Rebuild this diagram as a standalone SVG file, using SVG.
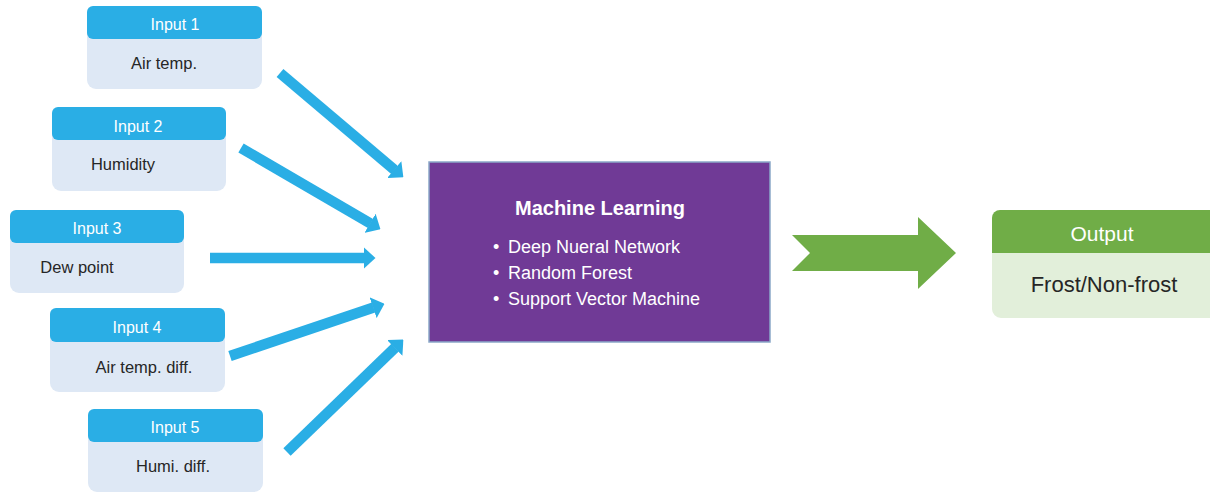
<svg xmlns="http://www.w3.org/2000/svg" width="1210" height="493" viewBox="0 0 1210 493">
  <style>
    .body{fill:#DEE8F5}
    .head{fill:#2AAEE5}
    .ht{font-family:"Liberation Sans",Arial,sans-serif;font-size:16px;fill:#FFFFFF;text-anchor:middle}
    .bt{font-family:"Liberation Sans",Arial,sans-serif;font-size:16.5px;fill:#262626;text-anchor:middle}
    .conn{stroke:#2AAEE5;stroke-width:10.5;fill:none;marker-end:url(#ah)}
    .ml{font-family:"Liberation Sans",Arial,sans-serif;fill:#FFFFFF}
  </style>
  <defs>
    <marker id="ah" markerUnits="userSpaceOnUse" viewBox="0 0 12 22" markerWidth="12" markerHeight="22" refX="0.5" refY="11" orient="auto">
      <path d="M0,0 L12,11 L0,22 z" fill="#2AAEE5"/>
    </marker>
  </defs>
  <rect width="1210" height="493" fill="#FFFFFF"/>

  <g id="input1">
    <rect class="body" x="87" y="6" width="175" height="83" rx="9"/>
    <rect class="head" x="87" y="6" width="175" height="33" rx="6"/>
    <text class="ht" x="175" y="30">Input 1</text>
    <text class="bt" x="164" y="69">Air temp.</text>
  </g>
  <g id="input2">
    <rect class="body" x="52" y="107" width="174" height="84" rx="9"/>
    <rect class="head" x="52" y="107" width="174" height="33" rx="6"/>
    <text class="ht" x="138" y="132">Input 2</text>
    <text class="bt" x="123" y="170">Humidity</text>
  </g>
  <g id="input3">
    <rect class="body" x="10" y="210" width="174" height="83" rx="9"/>
    <rect class="head" x="10" y="210" width="174" height="33" rx="6"/>
    <text class="ht" x="97" y="234">Input 3</text>
    <text class="bt" x="77" y="273">Dew point</text>
  </g>
  <g id="input4">
    <rect class="body" x="50" y="308" width="175" height="84" rx="9"/>
    <rect class="head" x="50" y="308" width="175" height="34" rx="6"/>
    <text class="ht" x="137" y="333">Input 4</text>
    <text class="bt" x="144" y="373">Air temp. diff.</text>
  </g>
  <g id="input5">
    <rect class="body" x="88" y="409" width="175" height="83" rx="9"/>
    <rect class="head" x="88" y="409" width="175" height="33" rx="6"/>
    <text class="ht" x="175" y="433">Input 5</text>
    <text class="bt" x="173" y="472">Humi. diff.</text>
  </g>

  <g id="ml">
    <rect x="429" y="162" width="341" height="180" fill="#703A96" stroke="#8AA8C8" stroke-width="1.5"/>
    <text class="ml" x="600" y="215" font-size="20" font-weight="bold" text-anchor="middle">Machine Learning</text>
    <text class="ml" x="493" y="253" font-size="18">•</text>
    <text class="ml" x="508" y="253" font-size="18">Deep Nueral Network</text>
    <text class="ml" x="493" y="279" font-size="18">•</text>
    <text class="ml" x="508" y="279" font-size="18">Random Forest</text>
    <text class="ml" x="493" y="305" font-size="18">•</text>
    <text class="ml" x="508" y="305" font-size="18">Support Vector Machine</text>
  </g>

  <g id="output">
    <path d="M992,318 V253 H1210 V318 H1001 A9,9 0 0 1 992,309 Z" fill="#E2EFDA"/>
    <path d="M992,253 V218 A8,8 0 0 1 1000,210 H1210 V253 Z" fill="#70AD47"/>
    <text x="1102" y="241" font-family="Liberation Sans, Arial, sans-serif" font-size="21" fill="#FFFFFF" text-anchor="middle">Output</text>
    <text x="1104" y="292" font-family="Liberation Sans, Arial, sans-serif" font-size="22" fill="#262626" text-anchor="middle">Frost/Non-frost</text>
  </g>

  <g id="connectors">
    <line class="conn" x1="280" y1="73" x2="394.6" y2="169.9"/>
    <line class="conn" x1="241" y1="148" x2="370.5" y2="223.5"/>
    <line class="conn" x1="210" y1="258" x2="364" y2="258"/>
    <line class="conn" x1="230" y1="356" x2="373.6" y2="307.5"/>
    <line class="conn" x1="287" y1="452" x2="395.1" y2="347.6"/>
    <polygon points="792,235 918,235 918,217 956,253 918,289 918,271 792,271 810,253" fill="#70AD47"/>
  </g>
</svg>
